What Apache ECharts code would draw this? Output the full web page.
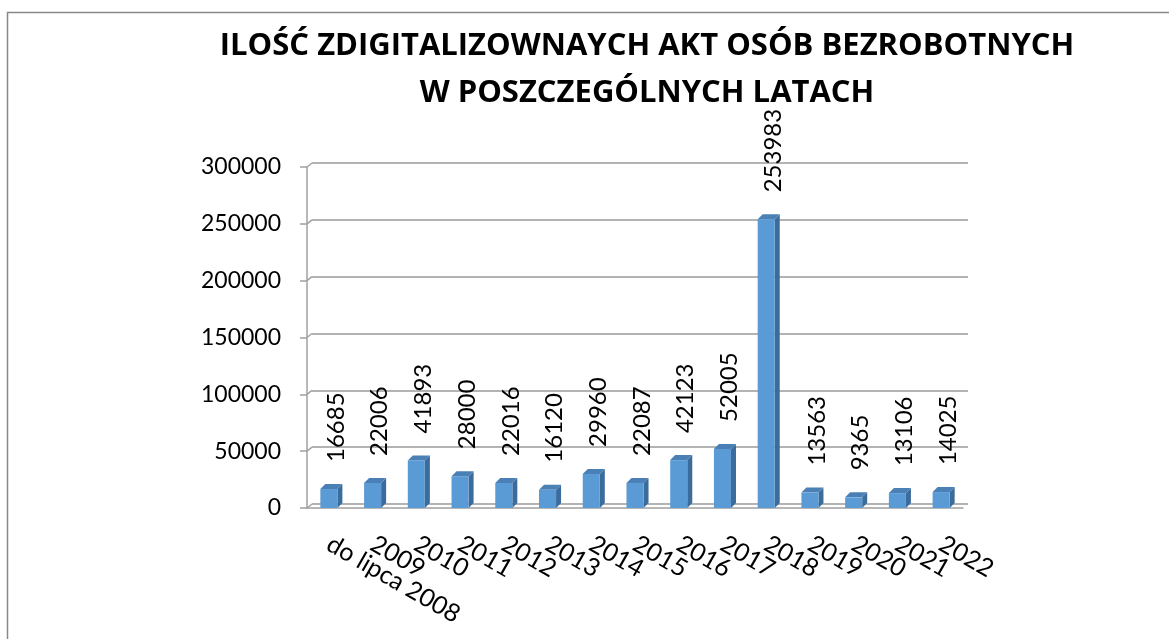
<!DOCTYPE html>
<html>
<head>
<meta charset="utf-8">
<script src="https://cdn.jsdelivr.net/npm/echarts@6/dist/echarts.min.js"></script>
<style>
  html, body { margin: 0; padding: 0; background: #fff; }
  #chart { width: 1169px; height: 639px; }
</style>
</head>
<body>
<div id="chart"></div>
<script>
// data
const categories = ['do lipca 2008', '2009', '2010', '2011', '2012', '2013', '2014',
  '2015', '2016', '2017', '2018', '2019', '2020', '2021', '2022'];
const counts = [16685, 22006, 41893, 28000, 22016, 16120, 29960, 22087, 42123,
  52005, 253983, 13563, 9365, 13106, 14025];
const yTicks = [0, 50000, 100000, 150000, 200000, 250000, 300000];

const DEPTH = 5;
const FONT = 'Lato';

function renderBar(params, api) {
  const idx = api.value(0);
  const val = api.value(1);
  const top = api.coord([idx, val]);
  const base = api.coord([idx, 0]);
  const band = api.size([1, 0])[0];
  const w = band * 0.39;
  const x0 = top[0] - w / 2;
  const x1 = top[0] + w / 2;
  const yT = top[1];
  const yB = base[1];
  return {
    type: 'group',
    children: [
      {
        type: 'polygon',
        shape: { points: [[x1, yT], [x1 + DEPTH, yT - DEPTH], [x1 + DEPTH, yB - DEPTH], [x1, yB]] },
        style: { fill: '#3b6c9c' }
      },
      {
        type: 'polygon',
        shape: { points: [[x0, yT], [x0 + DEPTH, yT - DEPTH], [x1 + DEPTH, yT - DEPTH], [x1, yT]] },
        style: { fill: '#4a80b6' }
      },
      {
        type: 'rect',
        shape: { x: x0, y: yT, width: w, height: yB - yT },
        style: { fill: '#5b9bd5' }
      },
      {
        type: 'text',
        x: top[0] + 7,
        y: yT - 27,
        rotation: Math.PI / 2,
        style: {
          text: String(val),
          align: 'left',
          verticalAlign: 'middle',
          fontFamily: FONT,
          fontSize: 24,
          fill: '#000'
        }
      }
    ]
  };
}

// little diagonal joints between front axis and back wall gridlines
function renderJoint(params, api) {
  const v = api.value(0);
  const p = api.coord([0, v]);
  const band = api.size([1, 0])[0];
  const x = p[0] - band / 2;
  return {
    type: 'line',
    shape: { x1: x, y1: p[1], x2: x + DEPTH, y2: p[1] - 4 },
    style: { stroke: '#a0a0a0', lineWidth: 1.5 }
  };
}

const chart = echarts.init(document.getElementById('chart'));
chart.setOption({
  animation: false,
  backgroundColor: '#fff',
  title: {
    text: 'ILOŚĆ ZDIGITALIZOWNAYCH AKT OSÓB BEZROBOTNYCH\nW POSZCZEGÓLNYCH LATACH',
    left: 642,
    top: 18,
    textAlign: 'center',
    textStyle: {
      fontFamily: 'Open Sans',
      fontWeight: 'bold',
      fontSize: 31,
      lineHeight: 47,
      color: '#000'
    }
  },
  graphic: [{
    type: 'rect',
    shape: { x: 7.5, y: 12.5, width: 1300, height: 800 },
    style: { fill: 'none', stroke: '#888', lineWidth: 1.5 },
    silent: true,
    z: -10
  }],
  grid: [
    { left: 307, right: 206, top: 167, bottom: 131 },
    { left: 312, right: 201, top: 163, bottom: 135 }
  ],
  xAxis: [
    {
      type: 'category',
      gridIndex: 0,
      data: categories,
      axisLine: { lineStyle: { color: '#a0a0a0', width: 1.5 } },
      axisTick: { length: 8, lineStyle: { color: '#a0a0a0', width: 1.5 } },
      axisLabel: {
        interval: 0,
        rotate: -30,
        margin: 34,
        fontFamily: FONT,
        fontSize: 25,
        color: '#000'
      }
    },
    {
      type: 'category',
      gridIndex: 1,
      data: categories,
      show: false
    }
  ],
  yAxis: [
    {
      type: 'value',
      gridIndex: 0,
      min: 0,
      max: 300000,
      interval: 50000,
      axisLine: { show: true, lineStyle: { color: '#a0a0a0', width: 1.5 } },
      axisTick: { show: true, length: 7, lineStyle: { color: '#a0a0a0', width: 1.5 } },
      splitLine: { show: false },
      axisLabel: {
        margin: 26,
        fontFamily: FONT,
        fontSize: 23,
        color: '#000',
        formatter: v => String(v)
      }
    },
    {
      type: 'value',
      gridIndex: 1,
      min: 0,
      max: 300000,
      interval: 50000,
      axisLine: { show: false },
      axisTick: { show: false },
      axisLabel: { show: false },
      splitLine: { show: true, lineStyle: { color: '#9a9a9a', width: 1.5 } }
    }
  ],
  series: [
    {
      type: 'custom',
      xAxisIndex: 0,
      yAxisIndex: 0,
      data: yTicks.map(v => [v]),
      encode: { y: 0 },
      renderItem: renderJoint,
      silent: true,
      z: 1
    },
    {
      type: 'custom',
      xAxisIndex: 0,
      yAxisIndex: 0,
      data: counts.map((v, i) => [i, v]),
      encode: { x: 0, y: 1 },
      renderItem: renderBar,
      z: 3
    }
  ]
});
</script>
</body>
</html>
